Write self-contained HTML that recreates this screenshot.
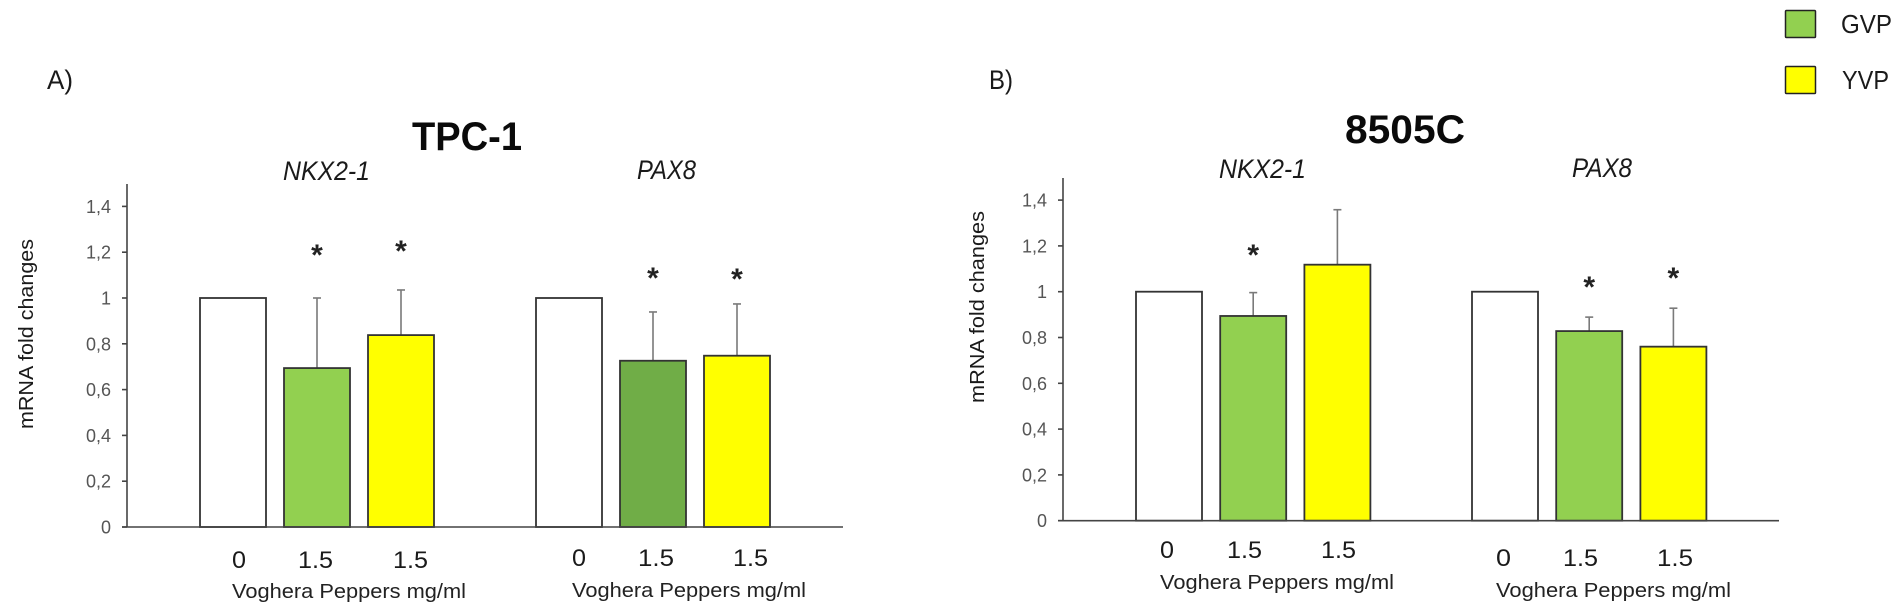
<!DOCTYPE html>
<html lang="en">
<head>
<meta charset="utf-8">
<title>TPC-1 and 8505C mRNA fold changes</title>
<style>
html,body{margin:0;padding:0;background:#fff;width:1902px;height:613px;overflow:hidden}
svg{display:block;font-family:"Liberation Sans",sans-serif}
.lab{fill:#1a1a1a}
.gene{font-style:italic;font-size:27px;fill:#1a1a1a}
.main{font-weight:bold;font-size:40px;fill:#0a0a0a}
.xval{font-size:24px;fill:#1a1a1a}
.xname{font-size:20px;fill:#222}
.ytitle{font-size:20px;fill:#1a1a1a}
.tick{font-size:18px;fill:#555}
.star{font-size:30px;font-weight:bold;fill:#222}
</style>
</head>
<body>
<svg id="figure" width="1902" height="613" viewBox="0 0 1902 613" xmlns="http://www.w3.org/2000/svg">
  <rect width="1902" height="613" fill="#fff"/>

  <text class="lab" x="47" y="89" font-size="27" textLength="26" lengthAdjust="spacingAndGlyphs">A)</text>
  <text class="lab" x="989" y="89" font-size="27" textLength="24" lengthAdjust="spacingAndGlyphs">B)</text>

  <text class="main" x="412" y="150" textLength="110" lengthAdjust="spacingAndGlyphs">TPC-1</text>
  <text class="main" x="1345" y="143" textLength="120" lengthAdjust="spacingAndGlyphs">8505C</text>

  <text class="gene" x="283" y="180" textLength="87" lengthAdjust="spacingAndGlyphs">NKX2-1</text>
  <text class="gene" x="637" y="179" textLength="59" lengthAdjust="spacingAndGlyphs">PAX8</text>
  <text class="gene" x="1219" y="178" textLength="87" lengthAdjust="spacingAndGlyphs">NKX2-1</text>
  <text class="gene" x="1572" y="177" textLength="60" lengthAdjust="spacingAndGlyphs">PAX8</text>

  <text class="ytitle" transform="translate(33,429) rotate(-90)" textLength="190" lengthAdjust="spacingAndGlyphs">mRNA fold changes</text>
  <text class="ytitle" transform="translate(984,403) rotate(-90)" textLength="192" lengthAdjust="spacingAndGlyphs">mRNA fold changes</text>

  <g>
    <text class="xval" x="232" y="568" textLength="14" lengthAdjust="spacingAndGlyphs">0</text>
    <text class="xval" x="298" y="568" textLength="35" lengthAdjust="spacingAndGlyphs">1.5</text>
    <text class="xval" x="393" y="568" textLength="35" lengthAdjust="spacingAndGlyphs">1.5</text>
    <text class="xname" x="232" y="598" textLength="234" lengthAdjust="spacingAndGlyphs">Voghera Peppers mg/ml</text>
    <text class="xval" x="572" y="566" textLength="14" lengthAdjust="spacingAndGlyphs">0</text>
    <text class="xval" x="638" y="566" textLength="36" lengthAdjust="spacingAndGlyphs">1.5</text>
    <text class="xval" x="733" y="566" textLength="35" lengthAdjust="spacingAndGlyphs">1.5</text>
    <text class="xname" x="572" y="597" textLength="234" lengthAdjust="spacingAndGlyphs">Voghera Peppers mg/ml</text>
  </g>
  <g>
    <text class="xval" x="1160" y="558" textLength="14" lengthAdjust="spacingAndGlyphs">0</text>
    <text class="xval" x="1227" y="558" textLength="35" lengthAdjust="spacingAndGlyphs">1.5</text>
    <text class="xval" x="1321" y="558" textLength="35" lengthAdjust="spacingAndGlyphs">1.5</text>
    <text class="xname" x="1160" y="589" textLength="234" lengthAdjust="spacingAndGlyphs">Voghera Peppers mg/ml</text>
    <text class="xval" x="1496" y="566" textLength="15" lengthAdjust="spacingAndGlyphs">0</text>
    <text class="xval" x="1563" y="566" textLength="35" lengthAdjust="spacingAndGlyphs">1.5</text>
    <text class="xval" x="1657" y="566" textLength="36" lengthAdjust="spacingAndGlyphs">1.5</text>
    <text class="xname" x="1496" y="597" textLength="235" lengthAdjust="spacingAndGlyphs">Voghera Peppers mg/ml</text>
  </g>

  <g>
    <g>
      <rect x="1785.5" y="10.5" width="30" height="27" rx="1" fill="#92D050" stroke="#222" stroke-width="1.5"/>
      <text class="lab" x="1841" y="33" font-size="26" textLength="51" lengthAdjust="spacingAndGlyphs">GVP</text>
    </g>
    <g>
      <rect x="1785.5" y="66.5" width="30" height="27" rx="1" fill="#FFFF00" stroke="#222" stroke-width="1.5"/>
      <text class="lab" x="1842" y="89" font-size="26" textLength="47" lengthAdjust="spacingAndGlyphs">YVP</text>
    </g>
  </g>
</svg>

<script>
// Axis ticks
const yTickValues = [0, 0.2, 0.4, 0.6, 0.8, 1, 1.2, 1.4];
const yTickLabels = ['0', '0,2', '0,4', '0,6', '0,8', '1', '1,2', '1,4'];

// Categories: gene group, then treatment within each group
const genes = ['NKX2-1', 'PAX8'];
const treatments = ['control', 'GVP', 'YVP'];

// TPC-1 values (one row per gene, one entry per treatment)
const tpc1Nkx = [1, 0.694, 0.838];
const tpc1Pax = [1, 0.726, 0.748];
const tpc1NkxErrTop = [null, 1.0, 1.035];
const tpc1PaxErrTop = [null, 0.939, 0.974];
const tpc1NkxStar = [null, 1.197, 1.214];
const tpc1PaxStar = [null, 1.096, 1.092];

// 8505C values
const c8505Nkx = [1, 0.894, 1.118];
const c8505Pax = [1, 0.828, 0.76];
const c8505NkxErrTop = [null, 0.996, 1.358];
const c8505PaxErrTop = [null, 0.889, 0.928];
const c8505NkxStar = [null, 1.169, null];
const c8505PaxStar = [null, 1.029, 1.069];

const svgNS = 'http://www.w3.org/2000/svg';
const figure = document.getElementById('figure');

function make(parent, tag, attrs, text) {
  const el = document.createElementNS(svgNS, tag);
  for (const k in attrs) el.setAttribute(k, attrs[k]);
  if (text !== undefined) el.textContent = text;
  parent.appendChild(el);
  return el;
}

function barFill(panelId, geneIdx, treatIdx) {
  if (treatIdx === 0) return '#FFFFFF';
  if (treatIdx === 2) return '#FFFF00';
  return (panelId === 'tpc1' && geneIdx === 1) ? '#70AD47' : '#92D050';
}

function drawPanel(cfg) {
  const yScale = v => cfg.baseY - v * cfg.unit;
  const barX = (g, t) => cfg.firstBarX + g * cfg.groupStep + t * cfg.barStep;

  const group = make(figure, 'g', {});
  
  

  // bars, whiskers and asterisks
  cfg.values.forEach((row, g) => {
    row.forEach((v, t) => {
      const x = barX(g, t);
      const cx = x + cfg.barWidth / 2;
      const top = yScale(v);
      const errTop = cfg.errTops[g][t];
      const starVal = cfg.stars[g][t];

      if (errTop !== null) {
        const whisker = make(group, 'line', {x1: cx, x2: cx, y1: top, y2: yScale(errTop), stroke: '#7a7a7a', 'stroke-width': 1.6});
        
        
        const cap = make(group, 'line', {x1: cx - 4, x2: cx + 4, y1: yScale(errTop), y2: yScale(errTop), stroke: '#7a7a7a', 'stroke-width': 1.6});
        
        
      }

      const bar = make(group, 'rect', {x: x, y: top, width: cfg.barWidth, height: cfg.baseY - top, fill: barFill(cfg.id, g, t), stroke: '#333', 'stroke-width': 1.8});
      
      

      if (starVal !== null) {
        const star = make(group, 'text', {class: 'star', x: cx, y: yScale(starVal) + 12, 'text-anchor': 'middle'}, '*');
        
        
      }
    });
  });

  // axes on top of the bars
  const yAxis = make(group, 'line', {x1: cfg.axisX, x2: cfg.axisX, y1: cfg.axisTop, y2: cfg.baseY, stroke: '#444', 'stroke-width': 1.6});
  
  
  const xAxis = make(group, 'line', {x1: cfg.axisX - 5, x2: cfg.axisEnd, y1: cfg.baseY, y2: cfg.baseY, stroke: '#444', 'stroke-width': 1.6});
  
  

  yTickValues.forEach((v, i) => {
    const y = yScale(v);
    const tick = make(group, 'line', {x1: cfg.axisX - 5, x2: cfg.axisX, y1: y, y2: y, stroke: '#444', 'stroke-width': 1.6});
    
    
    const label = make(group, 'text', {class: 'tick', x: cfg.axisX - 16, y: y + 6.5, 'text-anchor': 'end'}, yTickLabels[i]);
    
    
  });
}

drawPanel({
  id: 'tpc1', axisX: 127, axisTop: 184, axisEnd: 843, baseY: 527, unit: 229,
  firstBarX: 200, barStep: 84, groupStep: 336, barWidth: 66,
  values: [tpc1Nkx, tpc1Pax],
  errTops: [tpc1NkxErrTop, tpc1PaxErrTop],
  stars: [tpc1NkxStar, tpc1PaxStar]
});

drawPanel({
  id: '8505c', axisX: 1063, axisTop: 178, axisEnd: 1779, baseY: 520.7, unit: 229,
  firstBarX: 1136, barStep: 84.2, groupStep: 336, barWidth: 66,
  values: [c8505Nkx, c8505Pax],
  errTops: [c8505NkxErrTop, c8505PaxErrTop],
  stars: [c8505NkxStar, c8505PaxStar]
});
</script>
</body>
</html>
